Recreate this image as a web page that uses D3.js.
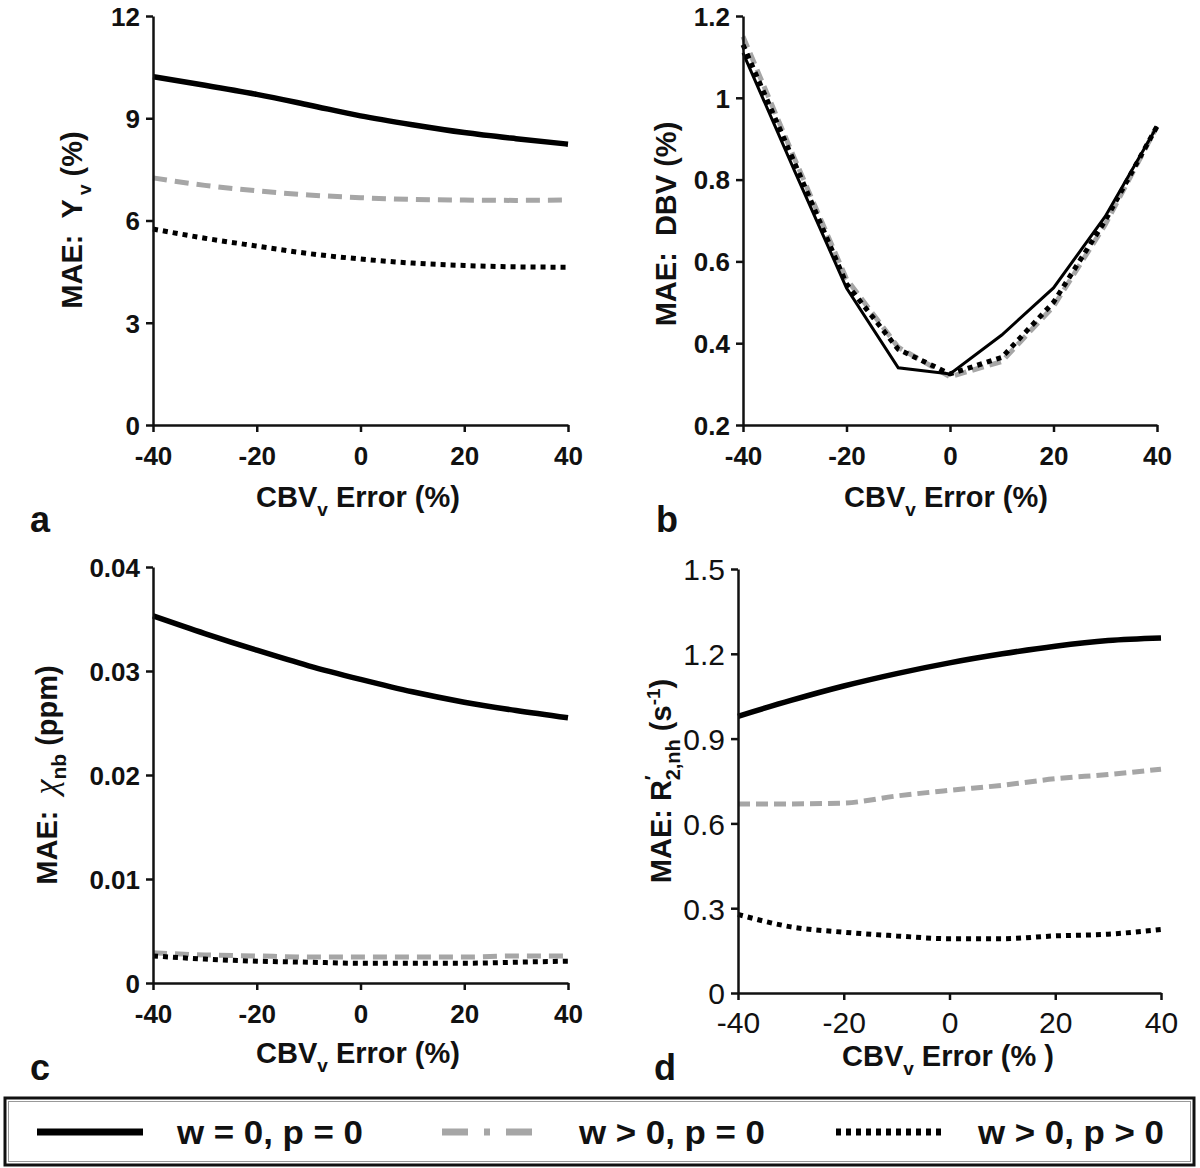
<!DOCTYPE html>
<html>
<head>
<meta charset="utf-8">
<script src="https://cdn.jsdelivr.net/npm/d3@7/dist/d3.min.js"></script>
<style>
  html, body { margin: 0; padding: 0; background: #fff; }
  svg { display: block; }
  text { font-family: "Liberation Sans", Arial, sans-serif; fill: #111; }
</style>
</head>
<body>
<svg id="chart" width="1200" height="1168"></svg>
<script>
// ---------- data ----------
const xValues = [-40, -30, -20, -10, 0, 10, 20, 30, 40];
const xTicks = [-40, -20, 0, 20, 40];

const aSolid  = [10.22, 9.97, 9.70, 9.39, 9.07, 8.81, 8.58, 8.40, 8.24];
const aGray   = [7.25, 7.03, 6.87, 6.75, 6.67, 6.62, 6.60, 6.59, 6.60];
const aDotted = [5.75, 5.48, 5.25, 5.03, 4.87, 4.75, 4.68, 4.64, 4.63];
const aTicks  = [0, 3, 6, 9, 12];

const bSolid  = [1.11, 0.82, 0.535, 0.34, 0.325, 0.42, 0.535, 0.71, 0.93];
const bGray   = [1.15, 0.85, 0.557, 0.39, 0.318, 0.355, 0.49, 0.69, 0.93];
const bDotted = [1.13, 0.84, 0.545, 0.385, 0.325, 0.365, 0.50, 0.70, 0.93];
const bTicks  = [0.2, 0.4, 0.6, 0.8, 1, 1.2];

const cSolid  = [0.0353, 0.0336, 0.0320, 0.0305, 0.0292, 0.0280, 0.0270, 0.0262, 0.0255];
const cGray   = [0.0029, 0.0027, 0.0026, 0.0025, 0.0025, 0.0025, 0.0025, 0.0026, 0.0026];
const cDotted = [0.0026, 0.0023, 0.0021, 0.0020, 0.0019, 0.0019, 0.0019, 0.0020, 0.0021];
const cTicks  = [0, 0.01, 0.02, 0.03, 0.04];

const dSolid  = [0.979, 1.035, 1.086, 1.13, 1.168, 1.20, 1.227, 1.247, 1.256];
const dGray   = [0.669, 0.669, 0.672, 0.697, 0.717, 0.735, 0.758, 0.773, 0.792];
const dDotted = [0.278, 0.234, 0.215, 0.202, 0.192, 0.192, 0.202, 0.208, 0.225];
const dTicks  = [0, 0.3, 0.6, 0.9, 1.2, 1.5];

const seriesNames = ["w = 0, p = 0", "w > 0, p = 0", "w > 0, p > 0"];

// ---------- styles ----------
const styles = {
  solid:  { stroke: "#000", width: 5, dash: null },
  gray:   { stroke: "#a6a6a6", width: 5, dash: "14,8" },
  dotted: { stroke: "#000", width: 5, dash: "5,5" }
};

const svg = d3.select("#chart");

function drawPanel(cfg) {
  const x = d3.scaleLinear().domain([-40, 40]).range([cfg.x0, cfg.x1]);
  const y = d3.scaleLinear().domain([cfg.ticks[0], cfg.ticks[cfg.ticks.length - 1]]).range([cfg.yBot, cfg.yTop]);
  const g = svg.append("g");

  const line = d3.line()
    .x((d, i) => x(xValues[i]))
    .y(d => y(d))
    .curve(cfg.curve);

  const order = [["gray", cfg.gray], ["dotted", cfg.dotted], ["solid", cfg.solid]];
  order.forEach(([k, data]) => {
    const st = styles[k];
    g.append("path")
      .datum(data)
      .attr("d", line)
      .attr("fill", "none")
      .attr("stroke", st.stroke)
      .attr("stroke-width", k === "solid" ? cfg.solidWidth : st.width)
      .attr("stroke-dasharray", k === "gray" ? (cfg.grayDash || st.dash) : st.dash);
  });

  // axes
  const xa = g.append("g").attr("transform", `translate(0,${cfg.yBot})`)
    .call(d3.axisBottom(x).tickValues(xTicks).tickSize(7).tickSizeOuter(0).tickPadding(cfg.xPad).tickFormat(d => String(d)));
  const ya = g.append("g").attr("transform", `translate(${cfg.x0},0)`)
    .call(d3.axisLeft(y).tickValues(cfg.ticks).tickSize(7).tickSizeOuter(0).tickPadding(6).tickFormat(d => String(d)));
  [xa, ya].forEach(a => {
    a.select(".domain").attr("stroke", "#111").attr("stroke-width", 2.5);
    a.selectAll(".tick line").attr("stroke", "#111").attr("stroke-width", 2.5);
    a.selectAll(".tick text")
      .attr("font-size", cfg.tickSize)
      .attr("font-weight", cfg.tickWeight)
      .attr("font-family", cfg.tickFont)
      .attr("fill", "#111");
  });
  ya.selectAll(".tick text").attr("dy", "0.36em");

  // x title
  const xt = g.append("text")
    .attr("x", cfg.xTitleX).attr("y", cfg.xTitleY)
    .attr("text-anchor", "middle")
    .attr("font-size", 29).attr("font-weight", "bold");
  xt.append("tspan").text("CBV");
  xt.append("tspan").attr("font-size", 19).attr("dy", 9).text("v");
  xt.append("tspan").attr("dy", -9).text(cfg.xTitleTail);

  // y title
  const yt = g.append("text")
    .attr("transform", `translate(${cfg.yTitleX},${cfg.yTitleY}) rotate(-90)`)
    .attr("text-anchor", "middle")
    .attr("font-size", 29).attr("font-weight", "bold");
  cfg.yTitle(yt);

  // panel letter
  g.append("text").attr("x", cfg.letterX).attr("y", cfg.letterY)
    .attr("font-size", 36).attr("font-weight", "bold").text(cfg.letter);
}

const common = { curve: d3.curveMonotoneX, solidWidth: 5.5, tickSize: 26, tickWeight: "bold", tickFont: "Liberation Sans, Arial, sans-serif", xPad: 15, xTitleTail: " Error (%)" };

drawPanel(Object.assign({}, common, {
  x0: 153, x1: 568, yTop: 16, yBot: 425, ticks: aTicks,
  solid: aSolid, gray: aGray, dotted: aDotted,
  xTitleX: 358, xTitleY: 507, yTitleX: 82, yTitleY: 220,
  letter: "a", letterX: 30, letterY: 532,
  yTitle: t => {
    t.append("tspan").text("MAE:\u00a0\u00a0Y");
    t.append("tspan").attr("font-size", 19).attr("dy", 9).attr("dx", 4).text("v");
    t.append("tspan").attr("dy", -9).text(" (%)");
  }
}));

drawPanel(Object.assign({}, common, {
  x0: 743, x1: 1157, yTop: 16, yBot: 425, ticks: bTicks,
  solid: bSolid, gray: bGray, dotted: bDotted, curve: d3.curveLinear, solidWidth: 3, grayDash: "12,6",
  xTitleX: 946, xTitleY: 507, yTitleX: 676, yTitleY: 224,
  letter: "b", letterX: 656, letterY: 532,
  yTitle: t => { t.append("tspan").text("MAE:\u00a0\u00a0DBV (%)"); }
}));

drawPanel(Object.assign({}, common, {
  x0: 153, x1: 568, yTop: 567, yBot: 983, ticks: cTicks,
  solid: cSolid, gray: cGray, dotted: cDotted,
  xTitleX: 358, xTitleY: 1063, yTitleX: 57, yTitleY: 775,
  letter: "c", letterX: 30, letterY: 1080,
  yTitle: t => {
    t.append("tspan").text("MAE:\u00a0\u00a0");
    t.append("tspan").attr("font-family", "Liberation Serif, serif").attr("font-style", "italic").attr("font-weight", "normal").attr("font-size", 34).text("χ");
    t.append("tspan").attr("font-size", 21).attr("dy", 9).text("nb");
    t.append("tspan").attr("dy", -9).text(" (ppm)");
  }
}));

drawPanel(Object.assign({}, common, {
  x0: 738, x1: 1161, yTop: 569, yBot: 993, ticks: dTicks,
  solid: dSolid, gray: dGray, dotted: dDotted, grayDash: "12,6",
  tickWeight: "normal", tickFont: "Liberation Sans Narrow, Liberation Sans, Arial, sans-serif", tickSize: 30, xPad: 12,
  xTitleTail: " Error (% )",
  xTitleX: 948, xTitleY: 1066, yTitleX: 671, yTitleY: 781,
  letter: "d", letterX: 654, letterY: 1080,
  yTitle: t => {
    t.append("tspan").text("MAE: R");
    t.append("tspan").attr("font-size", 20).attr("dy", -12).text("′");
    t.append("tspan").attr("font-size", 20).attr("dy", 21).attr("dx", -5).text("2,nh");
    t.append("tspan").attr("dy", -9).text(" (s");
    t.append("tspan").attr("font-size", 19).attr("dy", -11).text("-1");
    t.append("tspan").attr("dy", 11).text(")");
  }
}));

// ---------- legend ----------
const leg = svg.append("g");
leg.append("rect").attr("x", 5).attr("y", 1098).attr("width", 1189).attr("height", 67)
  .attr("fill", "#fff").attr("stroke", "#111").attr("stroke-width", 3);
leg.append("rect").attr("x", 8.5).attr("y", 1101.5).attr("width", 1182).attr("height", 60)
  .attr("fill", "none").attr("stroke", "#999").attr("stroke-width", 1);

const legendItems = [
  { key: "solid",  x0: 37,  x1: 143, tx: 177, dash: null },
  { key: "gray",   x0: 442, x1: 536, tx: 579, dash: "26,16,6,16" },
  { key: "dotted", x0: 836, x1: 941, tx: 978, dash: "5,5" }
];
const legY = 1132;
legendItems.forEach((it, i) => {
  const st = styles[it.key];
  leg.append("line").attr("x1", it.x0).attr("x2", it.x1).attr("y1", legY).attr("y2", legY)
    .attr("stroke", st.stroke).attr("stroke-width", 7)
    .attr("stroke-dasharray", it.dash);
  leg.append("text").attr("x", it.tx).attr("y", legY + 12)
    .attr("font-size", 34).attr("font-weight", "bold")
    .attr("font-family", "Liberation Sans Narrow, Liberation Sans, Arial, sans-serif")
    .attr("textLength", 186).attr("lengthAdjust", "spacingAndGlyphs")
    .text(seriesNames[i]);
});
</script>
</body>
</html>
